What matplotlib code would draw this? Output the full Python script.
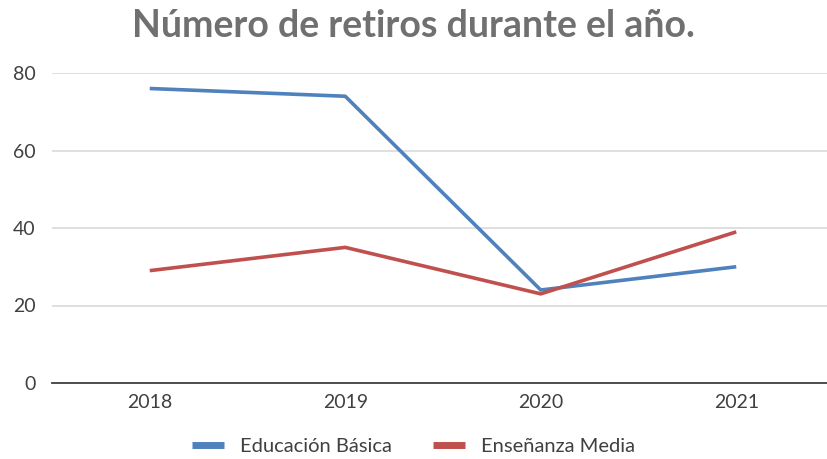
import matplotlib.pyplot as plt

years = ["2018", "2019", "2020", "2021"]
basica = [76, 74, 24, 30]
media = [29, 35, 23, 39]

plt.rcParams["font.family"] = ["Lato", "DejaVu Sans"]

fig = plt.figure(figsize=(8.27, 4.59), dpi=100)
ax = fig.add_axes([52 / 827, 1 - 383 / 459, 782 / 827, 310 / 459])

x = range(len(years))
ax.plot(x, basica, color="#4F81BD", lw=2.6, label="Educación Básica", solid_capstyle="butt")
ax.plot(x, media, color="#C0504D", lw=2.6, label="Enseñanza Media", solid_capstyle="butt")

ax.set_xlim(-0.5, 3.5)
ax.set_ylim(0, 80)
ax.set_yticks([0, 20, 40, 60, 80])
ax.set_xticks(list(x))
ax.set_xticklabels(years)
ax.grid(axis="y", color="#D9D9D9", lw=1.2)
ax.set_axisbelow(True)
for s in ["top", "right", "left"]:
    ax.spines[s].set_visible(False)
ax.spines["bottom"].set_color("#404040")
ax.spines["bottom"].set_linewidth(1.3)
ax.tick_params(length=0, labelsize=14, labelcolor="#404040", pad=8)
ax.tick_params(axis="y", pad=12)

fig.suptitle("Número de retiros durante el año.", x=0.5, y=0.98, fontsize=27,
             fontweight="bold", color="#707070")

leg = fig.legend(loc="lower center", bbox_to_anchor=(0.5, -0.03), ncol=2, frameon=False,
                 fontsize=14.5, labelcolor="#404040", handlelength=1.6, columnspacing=2.0,
                 handletextpad=0.8)
for h in leg.legend_handles:
    h.set_linewidth(5)

fig.savefig("out.png", dpi=100)
